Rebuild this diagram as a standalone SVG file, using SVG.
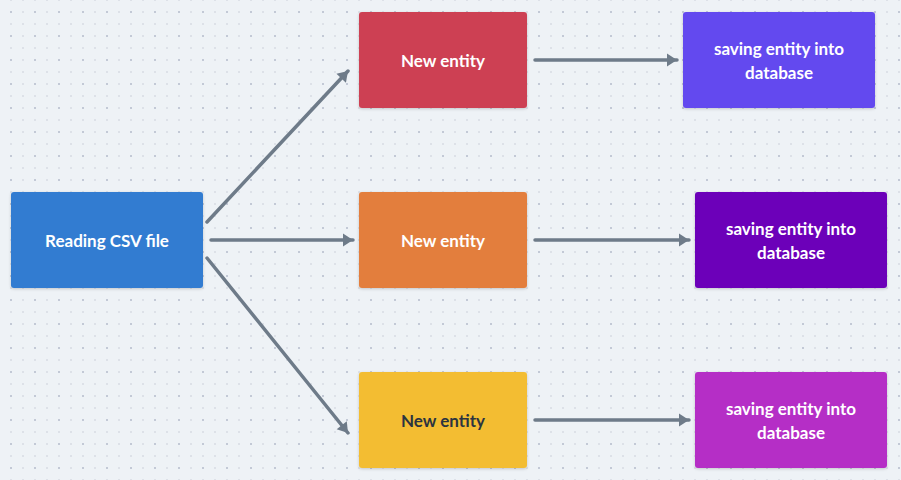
<svg xmlns="http://www.w3.org/2000/svg" width="901" height="480" viewBox="0 0 901 480">
<defs>
<pattern id="grid" x="11" y="12" width="24" height="24" patternUnits="userSpaceOnUse">
<rect x="-1" y="-1" width="2" height="2" fill="#c3c9d6"/>
<rect x="11" y="-1" width="2" height="2" fill="#dde1e8"/>
<rect x="-1" y="11" width="2" height="2" fill="#dde1e8"/>
<rect x="11" y="11" width="2" height="2" fill="#dde1e8"/>
<rect x="23" y="-1" width="2" height="2" fill="#c3c9d6"/>
<rect x="-1" y="23" width="2" height="2" fill="#c3c9d6"/>
<rect x="23" y="23" width="2" height="2" fill="#c3c9d6"/>
<rect x="23" y="11" width="2" height="2" fill="#dde1e8"/>
<rect x="11" y="23" width="2" height="2" fill="#dde1e8"/>
</pattern>
<marker id="arrow" markerUnits="userSpaceOnUse" markerWidth="14" markerHeight="14" viewBox="0 0 14 14" refX="11" refY="7" orient="auto">
<path d="M1,0.5 L11,7 L1,13.5 Z" fill="#6e7b89"/>
</marker>
<filter id="shadow" x="-10%" y="-10%" width="120%" height="130%">
<feDropShadow dx="0" dy="1" stdDeviation="1.5" flood-color="#000" flood-opacity="0.18"/>
</filter>
</defs>
<style>
.node rect { filter: url(#shadow); }
.node text { font-family: Lato, "Open Sans", sans-serif; font-size: 17px; font-weight: 700; fill: #ffffff; text-anchor: middle; dominant-baseline: central; }
.node text.dark { fill: #2b3440; }
.edge { stroke: #6e7b89; stroke-width: 3.5; fill: none; stroke-linecap: round; marker-end: url(#arrow); }
</style>
<rect width="901" height="480" fill="#eef2f6"/>
<rect width="901" height="480" fill="url(#grid)"/>

<g id="connectors">
<line class="edge" x1="207" y1="222" x2="348" y2="71"/>
<line class="edge" x1="211" y1="240" x2="353" y2="240"/>
<line class="edge" x1="207" y1="258" x2="348" y2="433"/>
<line class="edge" x1="535" y1="60" x2="677" y2="60"/>
<line class="edge" x1="535" y1="240" x2="689" y2="240"/>
<line class="edge" x1="535" y1="420" x2="689" y2="420"/>
</g>

<g id="reading" class="node">
<rect x="11" y="192" width="192" height="96" rx="3" fill="#317bd1"/>
<text x="107" y="240">Reading CSV file</text>
</g>
<g id="entity1" class="node">
<rect x="359" y="12" width="168" height="96" rx="3" fill="#cd4153"/>
<text x="443" y="60">New entity</text>
</g>
<g id="entity2" class="node">
<rect x="359" y="192" width="168" height="96" rx="3" fill="#e37e3c"/>
<text x="443" y="240">New entity</text>
</g>
<g id="entity3" class="node">
<rect x="359" y="372" width="168" height="96" rx="3" fill="#f3bd33"/>
<text class="dark" x="443" y="420">New entity</text>
</g>
<g id="save1" class="node">
<rect x="683" y="12" width="192" height="96" rx="3" fill="#6448ef"/>
<text x="779" y="48.5">saving entity into</text>
<text x="779" y="72.5">database</text>
</g>
<g id="save2" class="node">
<rect x="695" y="192" width="192" height="96" rx="3" fill="#6c00b9"/>
<text x="791" y="228.5">saving entity into</text>
<text x="791" y="252.5">database</text>
</g>
<g id="save3" class="node">
<rect x="695" y="372" width="192" height="96" rx="3" fill="#b52fc6"/>
<text x="791" y="408.5">saving entity into</text>
<text x="791" y="432.5">database</text>
</g>
</svg>
